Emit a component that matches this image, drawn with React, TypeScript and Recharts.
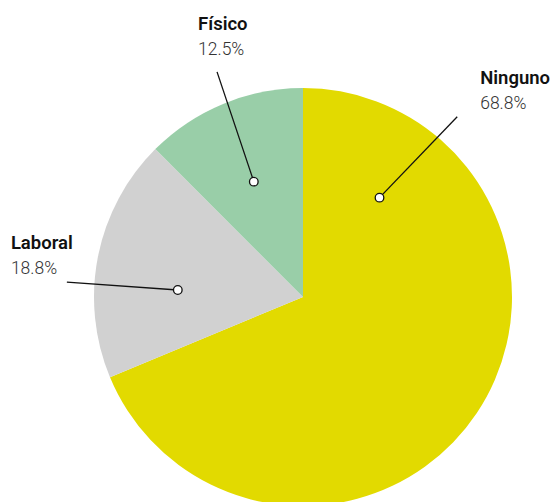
import React from "react";
import { PieChart, Pie, Cell } from "recharts";

const categories = ["Ninguno", "Laboral", "Físico"];
const values = [68.8, 18.8, 12.5];
const percentLabels = ["68.8%", "18.8%", "12.5%"];
const colors = ["#E2DA00", "#D1D1D1", "#99CEA8"];

// label annotation layout (angles in degrees, radii as fraction of outer radius)
const dotAngles = [52.4, 176.8, 113.1];
const endAngles = [49.45, 176.4, 110.9];
const dotRadiusFrac = 0.6;
const endRadiusFrac = [1.135, 1.132, 1.153];
const textDx = [23, -56, -19];
const textDy = [-33, -33, -42];

const data = categories.map((name, i) => ({ name, value: values[i] }));

const RAD = Math.PI / 180;

const renderLabel = (props: any) => {
  const { cx, cy, outerRadius, index } = props;
  const da = dotAngles[index] * RAD;
  const ea = endAngles[index] * RAD;
  const dr = outerRadius * dotRadiusFrac;
  const er = outerRadius * endRadiusFrac[index];
  const dx = cx + dr * Math.cos(da);
  const dy = cy - dr * Math.sin(da);
  const ex = cx + er * Math.cos(ea);
  const ey = cy - er * Math.sin(ea);
  const tx = ex + textDx[index];
  const ty = ey + textDy[index];
  return (
    <g>
      <line x1={ex} y1={ey} x2={dx} y2={dy} stroke="#111" strokeWidth={1.3} />
      <circle cx={dx} cy={dy} r={4.3} fill="#fff" stroke="#111" strokeWidth={1.3} />
      <text x={tx} y={ty} fill="#111" fontSize={18.5} fontWeight={600} fontFamily="Roboto, sans-serif" textAnchor="start">
        {categories[index]}
      </text>
      <text x={tx} y={ty + 25} fill="#333" fontSize={17.5} fontWeight={300} fontFamily="Roboto, sans-serif" textAnchor="start">
        {percentLabels[index]}
      </text>
    </g>
  );
};

export default function App() {
  return (
    <div style={{ position: "absolute", left: 0, top: 0, width: 555, height: 502, background: "#fff" }}>
      <PieChart width={555} height={502} margin={{ top: 0, right: 0, bottom: 0, left: 0 }}>
        <Pie
          data={data}
          dataKey="value"
          nameKey="name"
          cx={303}
          cy={297}
          outerRadius={209}
          startAngle={90}
          endAngle={-270}
          stroke="none"
          isAnimationActive={false}
          labelLine={false}
          label={renderLabel}
        >
          {data.map((d, i) => (
            <Cell key={d.name} fill={colors[i]} />
          ))}
        </Pie>
      </PieChart>
    </div>
  );
}
